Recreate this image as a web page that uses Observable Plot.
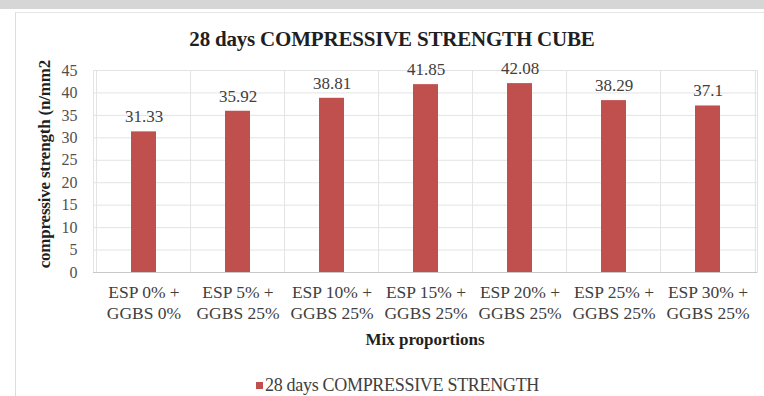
<!DOCTYPE html>
<html>
<head>
<meta charset="utf-8">
<script src="https://cdn.jsdelivr.net/npm/d3@7"></script>
<script src="https://cdn.jsdelivr.net/npm/@observablehq/plot@0.6"></script>
<style>
  html, body { margin: 0; padding: 0; background: #fff; }
  #wrap { position: relative; width: 764px; height: 396px; overflow: hidden; background: #fff;
          font-family: "Liberation Serif", "Times New Roman", serif; }
  #band { position: absolute; left: 0; top: 0; width: 764px; height: 9px; background: #d6d6d6; }
  #box { position: absolute; left: 15px; top: 12px; width: 760px; height: 400px;
         border-left: 1px solid #dcdcdc; border-top: 1px solid #e6e6e6; }
  #chart { position: absolute; left: 0; top: 0; }
  .lbl { position: absolute; white-space: nowrap; color: #1f1f1f; }
  #title { left: 0; width: 784px; top: 27px; text-align: center; font-weight: bold; font-size: 21px; letter-spacing: -0.2px; }
  #xlabel { left: 93px; width: 664px; top: 330px; text-align: center; font-weight: bold; font-size: 17px; }
  #ylabel { left: 37px; top: 290px; width: 230px; text-align: right; font-weight: bold; font-size: 17px;
            transform-origin: 0 0; transform: rotate(-90deg); line-height: 16px; letter-spacing: -0.2px; }
  #legend { left: 0; width: 795px; top: 375px; text-align: center; font-size: 18px; color: #404040; letter-spacing: -0.3px; }
  #legend .sw { display: inline-block; width: 7px; height: 7px; background: #c0504d; margin-right: 2px; vertical-align: 2px; }
</style>
</head>
<body>
<div id="wrap">
  <div id="band"></div>
  <div id="box"></div>
  <div id="chart"></div>
  <div class="lbl" id="title">28 days COMPRESSIVE STRENGTH CUBE</div>
  <div class="lbl" id="xlabel">Mix proportions</div>
  <div class="lbl" id="ylabel">compressive strength (n/mm2</div>
  <div class="lbl" id="legend"><span class="sw"></span>28 days COMPRESSIVE STRENGTH</div>
</div>
<script>
const espLabels = ["ESP 0% +", "ESP 5% +", "ESP 10% +", "ESP 15% +", "ESP 20% +", "ESP 25% +", "ESP 30% +"];
const ggbsLabels = ["GGBS 0%", "GGBS 25%", "GGBS 25%", "GGBS 25%", "GGBS 25%", "GGBS 25%", "GGBS 25%"];
const strength = [31.33, 35.92, 38.81, 41.85, 42.08, 38.29, 37.1];
const yTicks = [0, 5, 10, 15, 20, 25, 30, 35, 40, 45];

const mixes = espLabels.map((e, i) => e + "\n" + ggbsLabels[i]);
const data = mixes.map((m, i) => ({mix: m, value: strength[i]}));

const W = 764, H = 396;
const mL = 93, mR = 7, mT = 70, mB = 124;
const step = (W - mL - mR) / mixes.length;
const barFrac = 25 / step;
const serif = "'Liberation Serif', 'Times New Roman', serif";

const chart = Plot.plot({
  width: W,
  height: H,
  marginLeft: mL,
  marginRight: mR,
  marginTop: mT,
  marginBottom: mB,
  style: {fontFamily: serif, background: "transparent"},
  x: {domain: mixes, paddingInner: 1 - barFrac, paddingOuter: (1 - barFrac) / 2, label: null},
  y: {domain: [0, 45], label: null},
  marks: [
    Plot.gridY(yTicks, {stroke: "#e3e3e3", strokeOpacity: 1}),
    Plot.ruleX(mixes, {x: d => d, dx: -step / 2, stroke: "#e3e3e3", strokeOpacity: 1}),
    Plot.ruleX(mixes.slice(-1), {x: d => d, dx: step / 2, stroke: "#e3e3e3", strokeOpacity: 1}),
    Plot.frame({stroke: "#e3e3e3"}),
    Plot.ruleY([0], {stroke: "#c8c8c8"}),
    Plot.barY(data, {x: "mix", y: "value", fill: "#c0504d"}),
    Plot.text(data, {x: "mix", y: "value", text: d => String(d.value), dy: -15, fontSize: 17, fill: "#404040", fontFamily: serif}),
    Plot.axisY(yTicks, {tickSize: 0, tickPadding: 16, fontSize: 16, fill: "#505050", label: null, fontFamily: serif}),
    Plot.axisX({tickSize: 0, tickPadding: 11, fontSize: 17.5, fill: "#404040", lineHeight: 1.2, label: null, fontFamily: serif})
  ]
});
document.getElementById("chart").appendChild(chart);
</script>
</body>
</html>
